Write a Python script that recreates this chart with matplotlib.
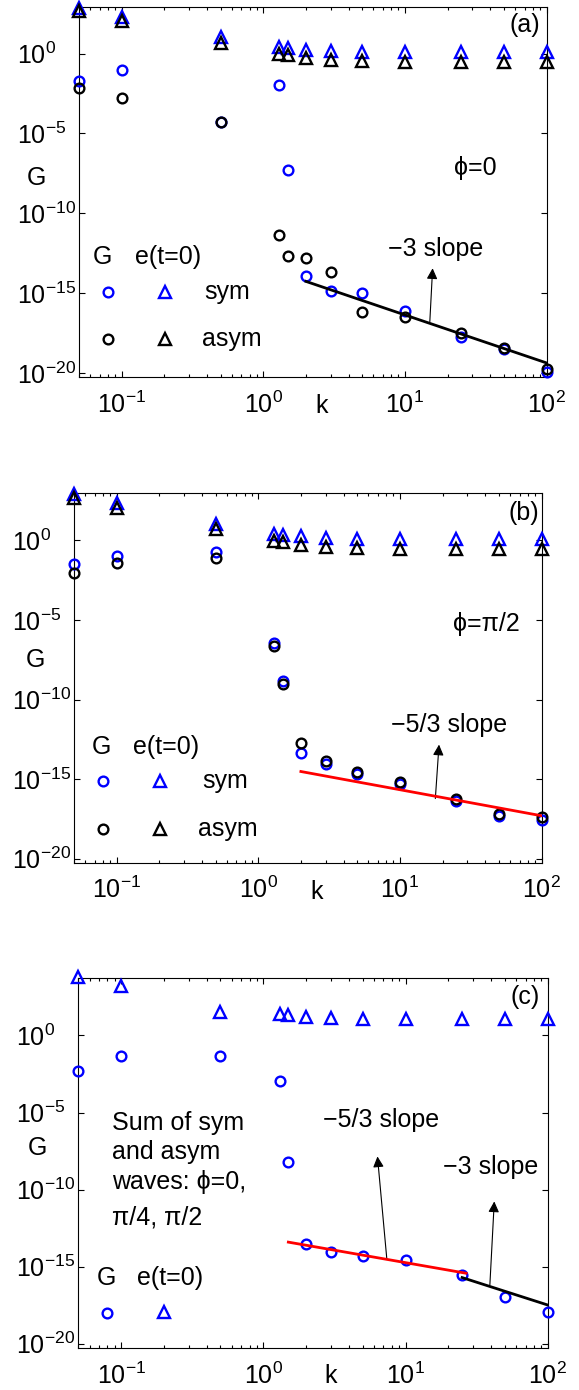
import numpy as np
import matplotlib
matplotlib.use("Agg")
import matplotlib.pyplot as plt

plt.rcParams['font.family'] = ['Liberation Sans', 'DejaVu Sans']
plt.rcParams['mathtext.fontset'] = 'custom'
plt.rcParams['mathtext.rm'] = 'Liberation Sans'
plt.rcParams['mathtext.it'] = 'Liberation Sans:italic'
plt.rcParams['mathtext.bf'] = 'Liberation Sans:bold'
plt.rcParams['axes.unicode_minus'] = True

# wavenumbers (same for all panels)
k = [0.05, 0.1, 0.5, 1.3, 1.5, 2, 3, 5, 10, 25, 50, 100]

# log10 of G
# (a) phi = 0
a_sym_tri = [2.87, 2.30, 1.03, 0.40, 0.36, 0.25, 0.15, 0.10, 0.08, 0.08, 0.08, 0.08]
a_asym_tri = [2.66, 2.03, 0.67, -0.02, -0.08, -0.27, -0.38, -0.44, -0.50, -0.54, -0.54, -0.54]
a_sym_circ = [-1.69, -1.05, -4.29, -1.95, -7.30, -13.89, -14.87, -15.00, -16.13, -17.72, -18.51, -19.90]
a_asym_circ = [-2.15, -2.76, -4.29, -11.32, -12.64, -12.78, -13.66, -16.17, -16.49, -17.51, -18.43, -19.73]
a_line_k = [2, 100]
a_line_G = [-14.25, -19.35]

# (b) phi = pi/2
b_sym_tri = [2.89, 2.32, 1.05, 0.38, 0.33, 0.25, 0.15, 0.08, 0.08, 0.06, 0.06, 0.06]
b_asym_tri = [2.68, 2.05, 0.69, -0.04, -0.10, -0.29, -0.42, -0.50, -0.56, -0.56, -0.56, -0.56]
b_sym_circ = [-1.51, -0.98, -0.71, -6.42, -8.83, -13.37, -14.06, -14.69, -15.31, -16.36, -17.30, -17.57]
b_asym_circ = [-2.03, -1.40, -1.13, -6.63, -9.00, -12.70, -13.85, -14.58, -15.21, -16.26, -17.20, -17.41]
b_line_k = [2, 100]
b_line_G = [-14.52, -17.30]

# (c) sum of sym and asym waves
c_tri = [3.81, 3.21, 1.54, 1.37, 1.30, 1.19, 1.11, 1.08, 1.04, 1.04, 1.04, 1.04]
c_circ = [-2.30, -1.30, -1.32, -2.97, -8.23, -13.52, -14.02, -14.28, -14.56, -15.54, -16.94, -17.92]
c_red_k = [1.5, 26.7]
c_red_G = [-13.41, -15.43]
c_blk_k = [25, 100]
c_blk_G = [-15.71, -17.49]

BLUE = '#0000ff'
FS = 18
W, H = 579, 1390
MS_O, MS_T, MEW = 7, 8, 1.7

fig = plt.figure(figsize=(W / 100, H / 100), dpi=100)


def make_axes(left, top, width, height, ylog):
    ax = fig.add_axes([left / W, 1 - (top + height) / H, width / W, height / H])
    ax.set_xscale('log')
    ax.set_yscale('log')
    ax.set_xlim(0.05, 100)
    ax.set_ylim(10 ** ylog[0], 10 ** ylog[1])
    ax.set_yticks([1e-20, 1e-15, 1e-10, 1e-5, 1e0])
    ax.yaxis.set_minor_locator(matplotlib.ticker.NullLocator())
    ax.tick_params(which='both', direction='in', top=True, right=True, width=0.8)
    ax.tick_params(which='major', length=4, labelsize=FS)
    ax.tick_params(which='minor', length=2)
    ax.tick_params(axis='x', which='major', pad=10)
    ax.tick_params(axis='y', which='major', pad=44.5)
    for t in ax.yaxis.get_major_ticks():
        t.label1.set_horizontalalignment('left')
    for s in ax.spines.values():
        s.set_linewidth(0.8)
    return ax


def markers(ax, vals, marker, color):
    ms = MS_O if marker == 'o' else MS_T
    ax.plot(k, 10 ** np.array(vals), linestyle='none', marker=marker, ms=ms,
            mfc='none', mec=color, mew=MEW, clip_on=False, zorder=3)


def legend_glyphs(ax, rows, gx, ex, y0):
    ax.text(gx, y0, 'G', transform=ax.transAxes, fontsize=FS, ha='center', va='center')
    ax.text(ex, y0, 'e(t=0)', transform=ax.transAxes, fontsize=FS, ha='left', va='center')
    for color, y, label, lx in rows:
        ax.plot([0.061], [y], 'o', ms=MS_O, mfc='none', mec=color, mew=MEW,
                transform=ax.transAxes, clip_on=False)
        ax.plot([0.183], [y], '^', ms=MS_T, mfc='none', mec=color, mew=MEW,
                transform=ax.transAxes, clip_on=False)
        ax.text(lx, y, label, transform=ax.transAxes, fontsize=FS, ha='left', va='center')


def arrow(ax, tail, head):
    ax.annotate('', xy=(head[0], 10 ** head[1]), xytext=(tail[0], 10 ** tail[1]),
                arrowprops=dict(arrowstyle='-|>', color='k', lw=0.8,
                                mutation_scale=16, shrinkA=0, shrinkB=0))


def labels(ax, gpos, kpos, tag, tagpos):
    ax.set_ylabel('G', rotation=0, fontsize=FS, ha='center', va='center')
    ax.yaxis.set_label_coords(*gpos)
    ax.set_xlabel('k', fontsize=FS, va='center')
    ax.xaxis.set_label_coords(*kpos)
    ax.text(tagpos[0], tagpos[1], tag, transform=ax.transAxes, fontsize=FS,
            ha='right', va='center')


# ---- (a)
ax = make_axes(79, 6.7, 467.5, 370.6, (-20.25, 2.93))
markers(ax, a_sym_tri, '^', BLUE)
markers(ax, a_asym_tri, '^', 'k')
markers(ax, a_sym_circ, 'o', BLUE)
markers(ax, a_asym_circ, 'o', 'k')
ax.plot(a_line_k, 10 ** np.array(a_line_G), color='k', lw=2, zorder=4)
arrow(ax, (15.0, -16.77), (15.7, -13.43))
ax.text(16.4, 10 ** -12.25, '\u22123 slope', fontsize=FS, ha='center', va='center')
ax.text(22.2, 10 ** -7.18, '\u03d5=0', fontsize=FS, ha='left', va='center')
legend_glyphs(ax, [(BLUE, 0.229, 'sym', 0.267), ('k', 0.103, 'asym', 0.263)], 0.050, 0.119, 0.325)
labels(ax, (-0.090, 0.537), (0.519, -0.078), '(a)', (0.987, 0.951))

# ---- (b)
ax = make_axes(74, 493.3, 467.5, 369.4, (-20.25, 2.96))
markers(ax, b_sym_tri, '^', BLUE)
markers(ax, b_asym_tri, '^', 'k')
markers(ax, b_sym_circ, 'o', BLUE)
markers(ax, b_asym_circ, 'o', 'k')
ax.plot(b_line_k, 10 ** np.array(b_line_G), color='red', lw=2, zorder=4)
arrow(ax, (17.8, -16.22), (18.9, -12.83))
ax.text(22.3, 10 ** -11.6, '\u22125/3 slope', fontsize=FS, ha='center', va='center')
ax.text(23.8, 10 ** -5.23, '\u03d5=\u03c0/2', fontsize=FS, ha='left', va='center')
legend_glyphs(ax, [(BLUE, 0.220, 'sym', 0.274), ('k', 0.090, 'asym', 0.266)], 0.059, 0.127, 0.312)
labels(ax, (-0.083, 0.550), (0.519, -0.078), '(b)', (0.994, 0.948))

# ---- (c)
ax = make_axes(78.3, 978.3, 469.4, 370, (-20.30, 3.71))
markers(ax, c_tri, '^', BLUE)
markers(ax, c_circ, 'o', BLUE)
ax.plot(c_red_k, 10 ** np.array(c_red_G), color='red', lw=2, zorder=4)
ax.plot(c_blk_k, 10 ** np.array(c_blk_G), color='k', lw=2, zorder=4)
arrow(ax, (7.38, -14.45), (6.35, -7.85))
arrow(ax, (39.2, -16.19), (42.1, -10.77))
ax.text(6.75, 10 ** -5.51, '\u22125/3 slope', fontsize=FS, ha='center', va='center')
ax.text(39.5, 10 ** -8.54, '\u22123 slope', fontsize=FS, ha='center', va='center')
for txt, yf in zip(['Sum of sym', 'and asym', 'waves: \u03d5=0,', '\u03c0/4, \u03c0/2'],
                   [0.610, 0.531, 0.449, 0.354]):
    ax.text(0.0715, yf, txt, transform=ax.transAxes, fontsize=FS, ha='left', va='center')
ax.text(0.059, 0.189, 'G', transform=ax.transAxes, fontsize=FS, ha='center', va='center')
ax.text(0.126, 0.189, 'e(t=0)', transform=ax.transAxes, fontsize=FS, ha='left', va='center')
ax.plot([0.061], [0.096], 'o', ms=MS_O, mfc='none', mec=BLUE, mew=MEW,
        transform=ax.transAxes, clip_on=False)
ax.plot([0.183], [0.099], '^', ms=MS_T, mfc='none', mec=BLUE, mew=MEW,
        transform=ax.transAxes, clip_on=False)
labels(ax, (-0.088, 0.541), (0.538, -0.075), '(c)', (0.982, 0.950))

fig.savefig('out.png', dpi=100)
